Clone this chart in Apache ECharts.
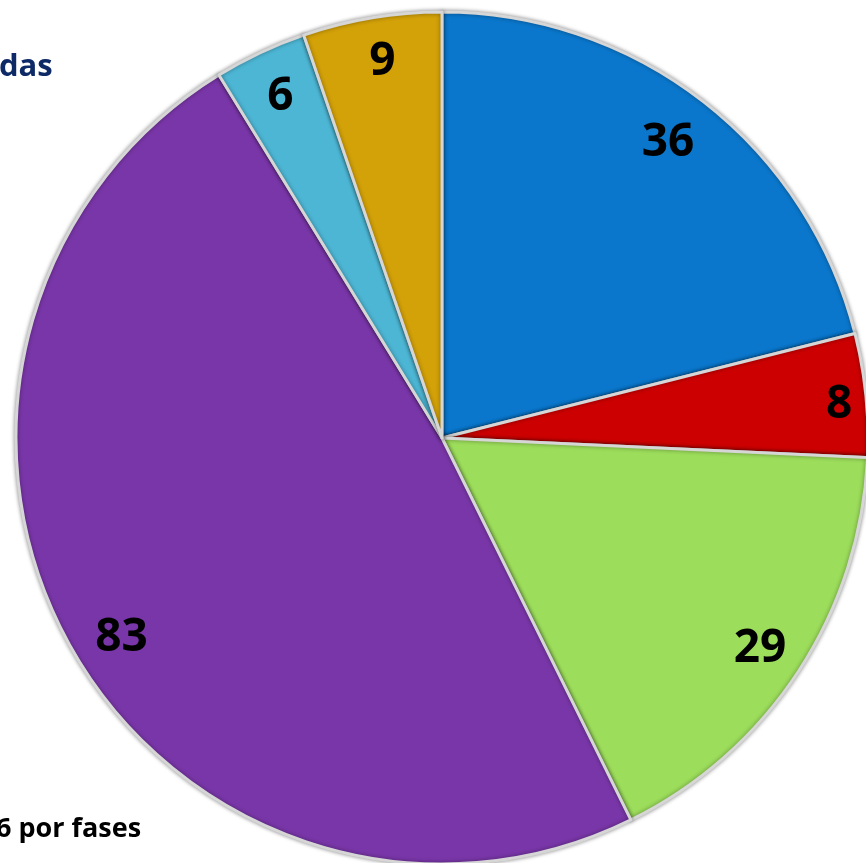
<!DOCTYPE html>
<html>
<head>
<meta charset="utf-8">
<title>pie</title>
<style>
  body, html { margin: 0; padding: 0; background: #fff; }
  #main { width: 866px; height: 863px; }
</style>
</head>
<body>
<div id="main"></div>
<script src="https://cdn.jsdelivr.net/npm/echarts@6/dist/echarts.min.js"></script>
<script>
var values = [36, 8, 29, 83, 6, 9];
var colors = ['#0A77CC', '#CC0000', '#9CDD5B', '#7936A8', '#4DB6D4', '#D3A108'];
// small nudges so the numbers sit where the original put them
var labelNudge = [[-8, 6], [18, 5], [-1, 3], [13, 15], [1, 3], [3, 0]];
var titleText = 'das';
var footText = '6 por fases';

var chart = echarts.init(document.getElementById('main'));

var slices = values.map(function (v, i) {
  return { value: v, itemStyle: { color: colors[i] } };
});
var labelData = values.map(function (v, i) {
  return { value: v, label: { offset: labelNudge[i] } };
});

chart.setOption({
  backgroundColor: '#fff',
  animation: false,
  graphic: [
    { type: 'text', left: -1, top: 52,
      style: { text: titleText, fill: '#0E2A66', font: 'bold 31px "Open Sans"' } },
    { type: 'text', left: -4, top: 816,
      style: { text: footText, fill: '#000', font: 'bold 27px "Open Sans"' } }
  ],
  series: [{
    type: 'pie',
    center: [442, 438],
    radius: 426,
    startAngle: 90,
    clockwise: true,
    silent: true,
    label: { show: false },
    labelLine: { show: false },
    itemStyle: {
      borderColor: '#d6d6d6',
      borderWidth: 3,
      shadowColor: 'rgba(0,0,0,0.4)',
      shadowBlur: 4
    },
    data: slices
  }, {
    type: 'pie',
    center: [442, 438],
    radius: [352, 404],
    startAngle: 90,
    clockwise: true,
    silent: true,
    itemStyle: { color: 'rgba(0,0,0,0)' },
    label: {
      show: true,
      position: 'inside',
      formatter: '{c}',
      color: '#000',
      fontFamily: 'Open Sans',
      fontWeight: 'bold',
      fontSize: 46
    },
    labelLine: { show: false },
    data: labelData
  }]
});
</script>
</body>
</html>
